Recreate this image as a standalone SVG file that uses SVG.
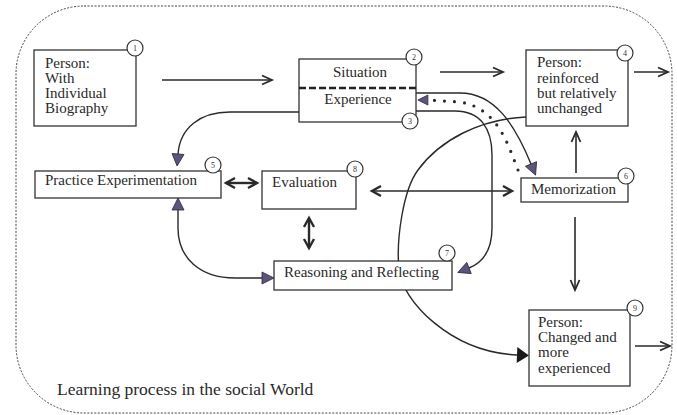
<svg xmlns="http://www.w3.org/2000/svg" width="677" height="415" viewBox="0 0 677 415">
<style>
text{font-family:'Liberation Serif',serif}
.box{fill:#fff;stroke:#333;stroke-width:1.3}
.t{font-size:15px;fill:#2a2a2a}
.cap{font-size:17.5px;fill:#2a2a2a}
.badge circle{fill:#fff;stroke:#333;stroke-width:1.2}
.badge text{font-size:8px;fill:#333;text-anchor:middle}
.ln{fill:none;stroke:#2a2a2a;stroke-width:1.4}
.thin{fill:none;stroke:#2a2a2a;stroke-width:1.6}
.dbl{fill:none;stroke:#2a2a2a;stroke-width:2.4}
.dots{fill:none;stroke:#2a2a2a;stroke-width:3.2;stroke-linecap:round;stroke-dasharray:0 10}
</style>
<defs>
<marker id="open" markerUnits="userSpaceOnUse" markerWidth="12" markerHeight="12" refX="10" refY="5" orient="auto-start-reverse" overflow="visible">
<path d="M0,0.5 L10,5 L0,9.5" fill="none" stroke="#2a2a2a" stroke-width="1.8"/>
</marker>
<marker id="openB" markerUnits="userSpaceOnUse" markerWidth="12" markerHeight="12" refX="9" refY="5" orient="auto-start-reverse" overflow="visible">
<path d="M0,0 L9,5 L0,10" fill="none" stroke="#2a2a2a" stroke-width="2.4"/>
</marker>
<marker id="tri" markerUnits="userSpaceOnUse" markerWidth="14" markerHeight="14" refX="0" refY="6" orient="auto-start-reverse" overflow="visible">
<path d="M0,0 L12,6 L0,12 z" fill="#5e5479" stroke="#2d2640" stroke-width="0.8"/>
</marker>
<marker id="triS" markerUnits="userSpaceOnUse" markerWidth="12" markerHeight="12" refX="0" refY="5" orient="auto" overflow="visible">
<path d="M0,0 L10,5 L0,10 z" fill="#5e5479" stroke="#2d2640" stroke-width="0.8"/>
</marker>
<marker id="triBig" markerUnits="userSpaceOnUse" markerWidth="14" markerHeight="18" refX="0" refY="8" orient="auto" overflow="visible">
<path d="M0,0 L12,8 L0,16 z" fill="#1a1a1a"/>
</marker>
</defs>

<rect x="16" y="6" width="656" height="407" rx="68" ry="68" fill="none" stroke="#444" stroke-width="1" stroke-dasharray="2 1.5"/>

<g id="connectors">
<line class="thin" x1="162" y1="80" x2="272" y2="80" marker-end="url(#open)"/>
<line class="thin" x1="440" y1="72" x2="503" y2="72" marker-end="url(#open)"/>
<line class="thin" x1="634" y1="72" x2="668" y2="72" marker-end="url(#open)"/>
<line class="thin" x1="635" y1="346" x2="670" y2="346" marker-end="url(#open)"/>
<line class="thin" x1="576" y1="173" x2="576" y2="132" marker-end="url(#open)"/>
<line class="thin" x1="575" y1="217" x2="575" y2="290" marker-end="url(#open)"/>
<line class="dbl" x1="226" y1="183" x2="257" y2="183" marker-start="url(#openB)" marker-end="url(#openB)"/>
<line class="dbl" x1="309" y1="218" x2="309" y2="248" marker-start="url(#openB)" marker-end="url(#openB)"/>
<line class="thin" x1="372" y1="191" x2="512" y2="191" marker-start="url(#openB)" marker-end="url(#openB)"/>
<path class="ln" d="M299,112 L230,112 C200,112 180,128 178,154" marker-end="url(#tri)"/>
<path class="ln" d="M178,210 L178,228 C178,258 200,278 235,278 L262,278" marker-start="url(#tri)" marker-end="url(#tri)"/>
<path class="ln" d="M416,93 L460,93 C495,93 515,125 531,164" marker-end="url(#tri)"/>
<path class="dots" d="M518,170 C508,145 498,108 460,102 L428,100"/>
<path d="M428,100 L427.9,100" fill="none" stroke="none" marker-end="url(#triS)"/>
<path class="ln" d="M416,111 L455,111 C480,111 492,128 492,155 L492,228 C492,248 484,262 469,268" marker-end="url(#tri)"/>
<path class="ln" d="M526,117 C480,119 440,140 418,170 C403,190 396,240 399,270 C402,300 450,352 517,355" marker-end="url(#triBig)"/>
</g>

<g id="n1">
<rect class="box" x="34" y="50" width="102" height="76"/>
<text class="t" x="45" y="68">Person:</text>
<text class="t" x="45" y="83">With</text>
<text class="t" x="45" y="98">Individual</text>
<text class="t" x="45" y="113">Biography</text>
<g class="badge"><circle cx="135" cy="48" r="8"/><text x="135" y="51">1</text></g>
</g>

<g id="n2">
<rect class="box" x="299" y="59" width="117" height="63"/>
<line x1="299" y1="88" x2="416" y2="88" stroke="#222" stroke-width="2.4" stroke-dasharray="7 3"/>
<text class="t" x="360" y="77" text-anchor="middle">Situation</text>
<text class="t" x="358" y="104" text-anchor="middle">Experience</text>
<g class="badge"><circle cx="414" cy="57" r="8"/><text x="414" y="60">2</text></g>
<g class="badge"><circle cx="410" cy="121" r="8"/><text x="410" y="124">3</text></g>
</g>

<g id="n4">
<rect class="box" x="526" y="50" width="102" height="76"/>
<text class="t" x="537" y="67">Person:</text>
<text class="t" x="537" y="83">reinforced</text>
<text class="t" x="537" y="98">but relatively</text>
<text class="t" x="537" y="113">unchanged</text>
<g class="badge"><circle cx="625" cy="53" r="8"/><text x="625" y="56">4</text></g>
</g>

<g id="n5">
<rect class="box" x="35" y="171" width="186" height="27"/>
<text class="t" x="45" y="185">Practice Experimentation</text>
<g class="badge"><circle cx="213" cy="165" r="8"/><text x="213" y="168">5</text></g>
</g>

<g id="n8">
<rect class="box" x="262" y="171" width="94" height="38"/>
<text class="t" x="272" y="187">Evaluation</text>
<g class="badge"><circle cx="355" cy="169" r="8"/><text x="355" y="172">8</text></g>
</g>

<g id="n6">
<rect class="box" x="521" y="178" width="107" height="24"/>
<text class="t" x="531" y="194">Memorization</text>
<g class="badge"><circle cx="626" cy="176" r="8"/><text x="626" y="179">6</text></g>
</g>

<g id="n7">
<rect class="box" x="274" y="261" width="178" height="29"/>
<text class="t" x="284" y="277">Reasoning and Reflecting</text>
<g class="badge"><circle cx="447" cy="253" r="8"/><text x="447" y="256">7</text></g>
</g>

<g id="n9">
<rect class="box" x="529" y="310" width="101" height="76"/>
<text class="t" x="538" y="327">Person:</text>
<text class="t" x="538" y="342">Changed and</text>
<text class="t" x="538" y="357">more</text>
<text class="t" x="538" y="373">experienced</text>
<g class="badge"><circle cx="635" cy="308" r="8"/><text x="635" y="311">9</text></g>
</g>

<text class="cap" x="57" y="395">Learning process in the social World</text>
</svg>
